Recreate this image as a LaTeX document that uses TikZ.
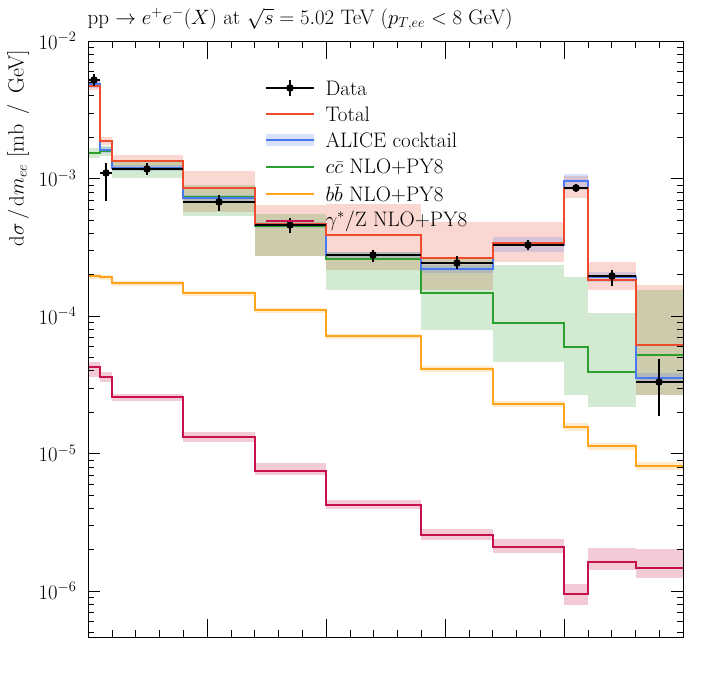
\documentclass[tikz,border=0pt]{standalone}
\usepackage{amsmath}
\usetikzlibrary{positioning}
\definecolor{cTot}{HTML}{EE4A2E}
\definecolor{cAli}{HTML}{4A78EE}
\definecolor{cCC}{HTML}{2CA02C}
\definecolor{cBB}{HTML}{FFA41C}
\definecolor{cGZ}{HTML}{C8104A}
\begin{document}
\begin{tikzpicture}[
        x = 1pt, y = -1pt, % pixel grid, y downwards
        hist/.style = {line width=1.6pt, line join=miter},
        band/.style = {opacity=0.22},
        tick/.style = {line width=0.6pt},
        every node/.style = {font=\fontsize{21}{24}\selectfont}
    ]
    \useasboundingbox (0,0) rectangle (706,697);

    % bands
    \foreach \a/\b/\lo/\hi in {88/100/81/90,100/112/137/145,112/183/155/170,183/255/171/212,255/326/205/256,326/421/204/270,421/493/222/290,493/564/222/262,564/588/176/198,588/636/262/290,636/683/285/395}
        \fill[band, cTot] (\a,\lo) rectangle (\b,\hi);
    \foreach \a/\b/\lo/\hi in {88/100/148/158,100/112/146/156,112/183/162/178,183/255/185/216,255/326/214/256,326/421/252/290,421/493/258/330,493/564/265/362,564/588/277/395,588/636/313/407,636/683/290/395}
        \fill[band, cCC] (\a,\lo) rectangle (\b,\hi);
    \foreach \a/\b/\lo/\hi in {88/100/80/88,100/112/147/153,112/183/165/171,183/255/195/201,255/326/222/228,326/421/252/258,421/493/265/273,493/564/237/252,564/588/174/190,588/636/272/282,636/683/373/383}
        \fill[band, cAli] (\a,\lo) rectangle (\b,\hi);
    \foreach \a/\b/\lo/\hi in {88/100/274/279,100/112/275/280,112/183/281/286,183/255/291/296,255/326/308/313,326/421/334/339,421/493/366/372,493/564/401/407,564/588/423/431,588/636/443/450,636/683/462/470}
        \fill[band, cBB] (\a,\lo) rectangle (\b,\hi);
    \foreach \a/\b/\lo/\hi in {88/100/362/377,100/112/372/382,112/183/394/401,183/255/432/442,255/326/463/475,326/421/500/509,421/493/529/540,493/564/539/553,564/588/584/605,588/636/548/570,636/683/549/578}
        \fill[band, cGZ] (\a,\lo) rectangle (\b,\hi);

    % histograms
    \draw[hist, cBB] (88,276) foreach \a/\b/\y in {88/100/276,100/112/277,112/183/283,183/255/293,255/326/310,326/421/336,421/493/369,493/564/404,564/588/427,588/636/446,636/683/466} {-- (\a,\y) -- (\b,\y)};
    \draw[hist, cGZ] (88,367) foreach \a/\b/\y in {88/100/367,100/112/377,112/183/397,183/255/437,255/326/471,326/421/505,421/493/535,493/564/547,564/588/594,588/636/562,636/683/568} {-- (\a,\y) -- (\b,\y)};
    \draw[hist, cCC] (88,153) foreach \a/\b/\y in {88/100/153,100/112/151,112/183/168,183/255/197,255/326/226,326/421/259,421/493/293,493/564/323,564/588/347,588/636/372,636/683/355} {-- (\a,\y) -- (\b,\y)};
    \draw[hist, cAli] (88,84) foreach \a/\b/\y in {88/100/84,100/112/150,112/183/168,183/255/198,255/326/225,326/421/255,421/493/269,493/564/245,564/588/181,588/636/277,636/683/378} {-- (\a,\y) -- (\b,\y)};
    \draw[hist, cTot] (88,86) foreach \a/\b/\y in {88/100/86,100/112/141,112/183/161,183/255/188,255/326/224,326/421/235,421/493/258,493/564/243,564/588/188,588/636/280,636/683/345} {-- (\a,\y) -- (\b,\y)};

    % data
    \foreach \a/\b/\x/\y/\lo/\hi in {88/100/94/80/74/86,100/112/106/173/163/201,112/183/147/169/163/175,183/255/219/202/195/211,255/326/290/225/218/233,326/421/373/255/250/262,421/493/457/263/256/269,493/564/528/245/240/250,564/588/576/188/184/192,588/636/612/276/270/286,636/683/659/382/359/416} {
        \draw[line width=1.6pt] (\a,\y) -- (\b,\y);
        \draw[line width=1.2pt] (\x,\lo) -- (\x,\hi);
        \fill (\x,\y) circle (3.8pt);
    }

    % frame and ticks
    \draw[line width=0.8pt] (88,41) rectangle (683,637);
    \foreach \d/\t in {41/-2,178.5/-3,316/-4,453.5/-5,591/-6} {
        \draw[tick] (88,\d) -- ++(12,0);
        \draw[tick] (683,\d) -- ++(-12,0);
        \node[anchor=east] at (80,\d) {$10^{\t}$};
    }
    \foreach \d in {178.5,316,453.5,591}
        \foreach \m in {2,...,9} {
            \draw[tick] (88,{\d-137.5*log10(\m)}) -- ++(6,0);
            \draw[tick] (683,{\d-137.5*log10(\m)}) -- ++(-6,0);
        }
    \foreach \m in {5,...,9} {
        \draw[tick] (88,{728.5-137.5*log10(\m)}) -- ++(6,0);
        \draw[tick] (683,{728.5-137.5*log10(\m)}) -- ++(-6,0);
    }
    \foreach \k in {1,...,24} {
        \draw[tick] ({88+23.8*\k},637) -- ++(0,-7);
        \draw[tick] ({88+23.8*\k},41) -- ++(0,7);
    }
    \foreach \x in {207,326,445,564} {
        \draw[tick] (\x,637) -- ++(0,-18);
        \draw[tick] (\x,41) -- ++(0,18);
    }

    % legend
    \foreach \y/\c/\t in {114/cTot/{Total},140/cAli/{ALICE cocktail},167/cCC/{$c\bar{c}$ NLO+PY8},194/cBB/{$b\bar{b}$ NLO+PY8},221/cGZ/{$\gamma^{*}/\mathrm{Z}$ NLO+PY8}} {
        \draw[hist, \c] (266,\y) -- (314,\y);
        \node[anchor=west, inner ysep=0pt] at (322,\y) {\t};
    }
    \fill[band, cAli] (266,134) rectangle (314,146);
    \draw[line width=1.6pt] (266,88) -- (314,88);
    \draw[line width=1.2pt] (290,80) -- (290,96);
    \fill (290,88) circle (3.8pt);
    \node[anchor=west, inner ysep=0pt] at (322,88) {Data};

    % labels
    \node[anchor=west] (title) at (84,19) {pp $\rightarrow e^{+}e^{-}(X)$ at $\sqrt{s}=5.02$ TeV ($p_{T,ee}<8$ GeV)};
    \node[rotate=90, font=\fontsize{22}{24}\selectfont] (ylab) at (18,148) {$\mathrm{d}\sigma\,/\,\mathrm{d}m_{ee}$ [mb \,/\, GeV]};
\end{tikzpicture}
\end{document}
